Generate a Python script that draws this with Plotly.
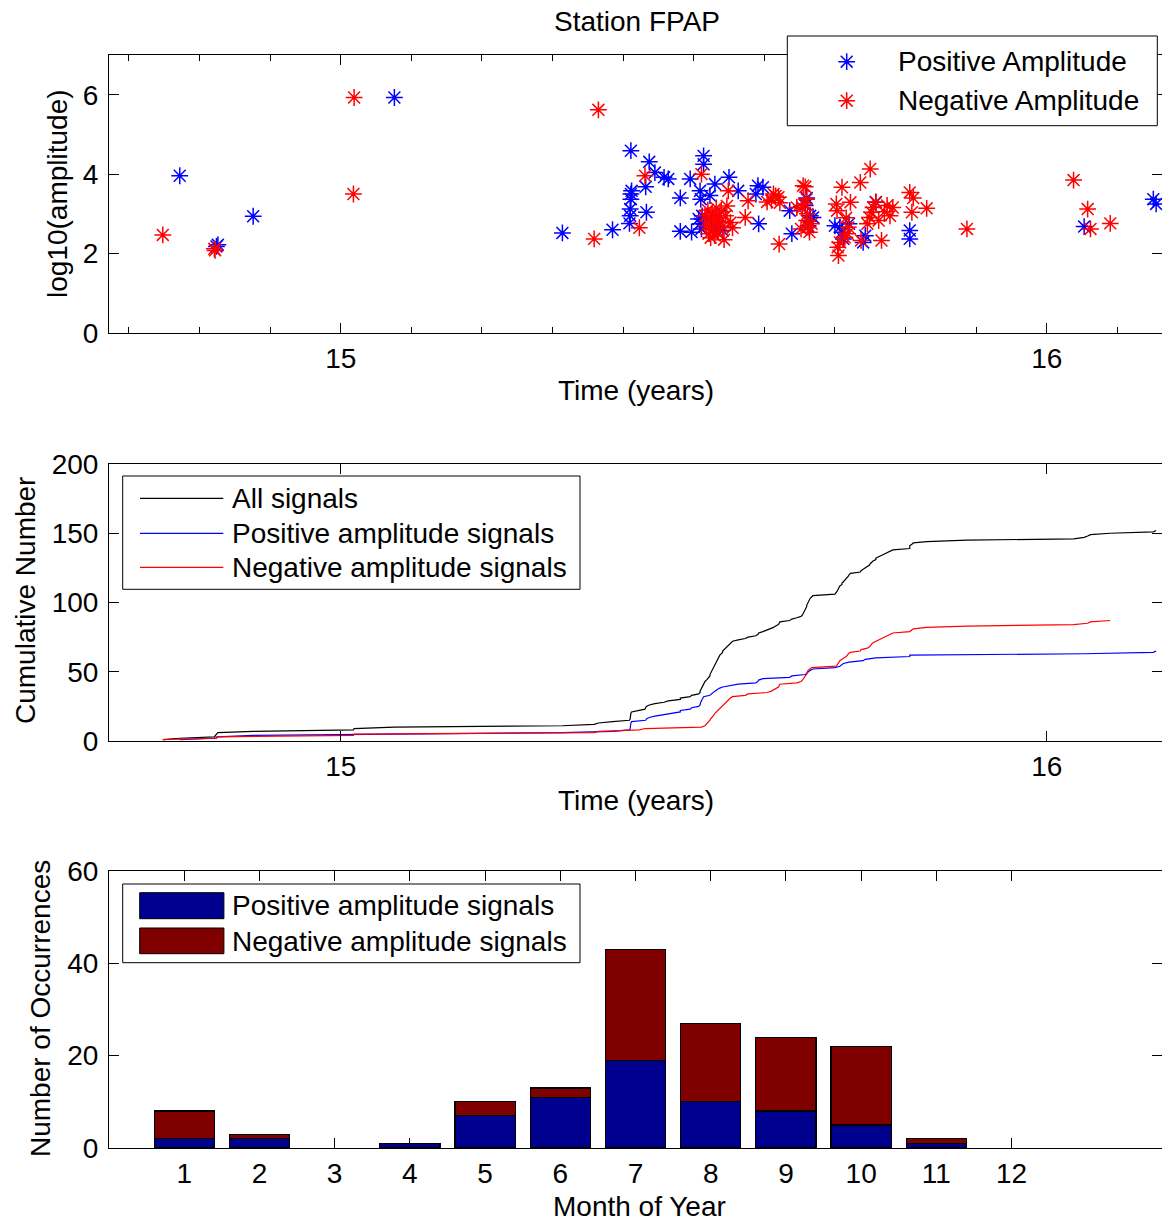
import plotly.graph_objects as go

W, H = 1162, 1222
FONT = "Liberation Sans, Arial, Helvetica, sans-serif"

# ---------------- data ----------------
pos_time = [14.772, 14.824, 14.826, 14.876, 15.076, 15.314, 15.385,
            15.409, 15.410, 15.410, 15.411, 15.411, 15.412, 15.411,
            15.432, 15.433, 15.437, 15.445,
            15.458, 15.464, 15.481, 15.481,
            15.495, 15.497,
            15.507, 15.509, 15.509, 15.510, 15.511, 15.514, 15.514, 15.512,
            15.523, 15.525, 15.528, 15.530, 15.533, 15.536, 15.541,
            15.550, 15.563, 15.588,
            15.591, 15.592, 15.598, 15.636, 15.639,
            15.658, 15.660, 15.662, 15.665, 15.669,
            15.700,
            15.707, 15.710, 15.712, 15.720,
            15.740, 15.743,
            15.758,
            15.806, 15.806,
            16.053, 16.151, 16.155]
pos_logamp = [3.96, 2.18, 2.22, 2.94, 5.93, 2.52, 2.60,
              2.76, 2.95, 3.12, 3.37, 3.50, 3.58, 4.59,
              3.68, 3.04, 4.31, 4.04,
              3.92, 3.88, 3.40, 2.56,
              3.88, 2.54,
              2.87, 3.58, 2.75, 3.37, 2.62, 4.46, 4.25, 2.95,
              3.46, 2.80, 2.60, 3.75, 2.70, 2.95, 2.58,
              3.92, 3.58, 3.50,
              3.71, 2.75, 3.67, 3.08, 2.50,
              3.21, 3.40, 2.70, 2.95, 2.91,
              2.70,
              2.66, 2.54, 2.37, 2.75,
              2.28, 2.45,
              3.29,
              2.58, 2.37,
              2.68, 3.37, 3.25]

neg_time = [14.748, 14.821, 14.822, 15.018, 15.019,
            15.359, 15.365, 15.423, 15.431, 15.511,
            15.516, 15.518, 15.520, 15.521, 15.523, 15.524, 15.526, 15.527, 15.529, 15.530,
            15.532, 15.533, 15.535, 15.537, 15.539, 15.541, 15.543, 15.545, 15.547, 15.549, 15.552,
            15.555, 15.573, 15.577,
            15.604, 15.610, 15.613, 15.616, 15.620, 15.621, 15.622,
            15.646, 15.652, 15.654, 15.655, 15.657, 15.658, 15.660, 15.660, 15.661, 15.662, 15.664, 15.667,
            15.702, 15.703, 15.704, 15.705,
            15.707, 15.710, 15.714, 15.716, 15.718, 15.719, 15.722,
            15.736, 15.737,
            15.746, 15.749, 15.750, 15.752, 15.754,
            15.758, 15.762, 15.766,
            15.770, 15.774, 15.778, 15.782,
            15.806, 15.809, 15.811, 15.830, 15.887,
            16.038, 16.058, 16.062, 16.090]
neg_logamp = [2.47, 2.12, 2.08, 3.50, 5.93,
              2.37, 5.62, 2.65, 3.96, 4.00,
              2.95, 2.70, 3.10, 2.50, 2.85, 2.40, 3.00, 2.62, 2.75, 2.45,
              3.15, 2.90, 2.55, 2.80, 3.05, 2.68, 2.35, 2.95, 3.20, 3.58, 2.78,
              2.65, 2.91, 3.33,
              3.30, 3.34, 3.50, 3.45, 3.42, 2.24, 3.28,
              3.16, 2.62, 3.16, 3.71, 3.25, 3.68, 3.37, 2.83, 3.00, 2.66, 2.54, 2.75,
              3.25, 3.08, 2.16, 1.95,
              2.28, 3.67, 2.41, 2.90, 2.50, 2.66, 3.29,
              3.79, 2.33,
              2.75, 2.91, 4.13, 3.04, 3.16,
              3.30, 2.83, 2.33,
              3.05, 3.21, 2.95, 3.16,
              3.54, 3.04, 3.40, 3.14, 2.62,
              3.85, 3.12, 2.62, 2.76]

months = list(range(1, 13))
pos_month_counts = [2, 2, 0, 1, 7, 11, 19, 10, 8, 5, 1, 0]
neg_month_counts = [6, 1, 0, 0, 3, 2, 24, 17, 16, 17, 1, 0]

time_ticks = [15, 16]
amp_ticks = [0, 2, 4, 6]
cum_ticks = [0, 50, 100, 150, 200]
occ_ticks = [0, 20, 40, 60]

# cumulative counts derived from event times
all_sorted = sorted(pos_time + neg_time)
pos_sorted = sorted(pos_time)
neg_sorted = sorted(neg_time)
all_cum = list(range(1, len(all_sorted) + 1))
pos_cum = list(range(1, len(pos_sorted) + 1))
neg_cum = list(range(1, len(neg_sorted) + 1))

# ---------------- helpers ----------------
def X(px):
    return px / W


def Y(py):
    return 1 - py / H


BLUE = "#0000FF"
RED = "#FF0000"
BAR_BLUE = "#00008F"
BAR_RED = "#800000"

fig = go.Figure()

# top panel
star = dict(symbol="asterisk-open", size=14)
fig.add_trace(go.Scatter(x=pos_time, y=pos_logamp, mode="markers", xaxis="x", yaxis="y",
                         marker=dict(**star, color=BLUE, line=dict(color=BLUE, width=1.5)),
                         showlegend=False))
fig.add_trace(go.Scatter(x=neg_time, y=neg_logamp, mode="markers", xaxis="x", yaxis="y",
                         marker=dict(**star, color=RED, line=dict(color=RED, width=1.5)),
                         showlegend=False))

# middle panel
fig.add_trace(go.Scatter(x=all_sorted, y=all_cum, mode="lines", xaxis="x2", yaxis="y2",
                         line=dict(color="black", width=1.2), showlegend=False))
fig.add_trace(go.Scatter(x=pos_sorted, y=pos_cum, mode="lines", xaxis="x2", yaxis="y2",
                         line=dict(color=BLUE, width=1.2), showlegend=False))
fig.add_trace(go.Scatter(x=neg_sorted, y=neg_cum, mode="lines", xaxis="x2", yaxis="y2",
                         line=dict(color=RED, width=1.2), showlegend=False))

# bottom panel (empty months drawn as no bar)
pos_bar = [v if v else None for v in pos_month_counts]
neg_bar = [v if v else None for v in neg_month_counts]
fig.add_trace(go.Bar(x=months, y=pos_bar, xaxis="x3", yaxis="y3", width=0.8,
                     marker=dict(color=BAR_BLUE, line=dict(color="black", width=1.2)),
                     showlegend=False))
fig.add_trace(go.Bar(x=months, y=neg_bar, xaxis="x3", yaxis="y3", width=0.8,
                     marker=dict(color=BAR_RED, line=dict(color="black", width=1.2)),
                     showlegend=False))

tickfont = dict(family=FONT, size=28, color="black")
common = dict(showline=True, linecolor="black", linewidth=1, mirror="allticks",
              ticks="inside", ticklen=10, tickwidth=1, tickcolor="black",
              showgrid=False, zeroline=False, tickfont=tickfont, fixedrange=True,
              automargin=False)

xdom = [109 / W, 1.0]
trange = [14.6718, 16.1633]

fig.update_layout(
    width=W, height=H,
    margin=dict(l=0, r=0, t=0, b=0, pad=0, autoexpand=False),
    paper_bgcolor="white", plot_bgcolor="white",
    barmode="stack", bargap=0.2,
    font=dict(family=FONT, size=28, color="black"),
    xaxis=dict(domain=xdom, range=trange, tickmode="array", tickvals=time_ticks,
               ticklabelstandoff=0, anchor="y",
               minor=dict(dtick=0.1, tick0=15, ticks="inside", ticklen=6, tickcolor="black",
                          tickwidth=1, showgrid=False),
               **common),
    yaxis=dict(domain=[Y(333), Y(55)], range=[0, 7], tickmode="array", tickvals=amp_ticks,
               ticklabelstandoff=4, anchor="x", **common),
    xaxis2=dict(domain=xdom, range=trange, tickmode="array", tickvals=time_ticks,
                ticklabelstandoff=0, anchor="y2", **common),
    yaxis2=dict(domain=[Y(741), Y(464)], range=[0, 200], tickmode="array", tickvals=cum_ticks,
                ticklabelstandoff=4, anchor="x2", **common),
    xaxis3=dict(domain=xdom, range=[0, 14], tickmode="array", tickvals=months,
                ticklabelstandoff=0, anchor="y3", layer="below traces", **common),
    yaxis3=dict(domain=[Y(1148), Y(871)], range=[0, 60], tickmode="array", tickvals=occ_ticks,
                ticklabelstandoff=4, anchor="x3", layer="below traces", **common),
)

# ---------------- titles (annotations) ----------------
def txt(text, px, py, angle=0, xanchor="center"):
    fig.add_annotation(text=text, x=X(px), y=Y(py), xref="paper", yref="paper",
                       showarrow=False, xanchor=xanchor, yanchor="middle", textangle=angle,
                       font=dict(family=FONT, size=28, color="black"))


txt("Station FPAP", 637, 22)
txt("Time (years)", 636, 391)
txt("Time (years)", 636, 800)
txt("Month of Year", 639, 1206)
txt("log10(amplitude)", 57, 194, angle=-90)
txt("Cumulative Number", 25, 601, angle=-90)
txt("Number of Occurrences", 40, 1009, angle=-90)

# ---------------- custom legends ----------------
shapes = []


def rect(x0, y0, x1, y1, fill="white", lw=1):
    shapes.append(dict(type="rect", xref="paper", yref="paper", x0=X(x0), x1=X(x1),
                       y0=Y(y1), y1=Y(y0), fillcolor=fill, line=dict(color="black", width=lw),
                       layer="above"))


def seg(x0, y0, x1, y1, color, lw=1.2):
    shapes.append(dict(type="line", xref="paper", yref="paper", x0=X(x0), x1=X(x1),
                       y0=Y(y0), y1=Y(y1), line=dict(color=color, width=lw), layer="above"))


def asterisk(cx, cy, color, r=8.4, r2=5.95):
    p = (f"M{X(cx - r)},{Y(cy)} L{X(cx + r)},{Y(cy)} "
         f"M{X(cx)},{Y(cy - r)} L{X(cx)},{Y(cy + r)} "
         f"M{X(cx - r2)},{Y(cy - r2)} L{X(cx + r2)},{Y(cy + r2)} "
         f"M{X(cx - r2)},{Y(cy + r2)} L{X(cx + r2)},{Y(cy - r2)}")
    shapes.append(dict(type="path", xref="paper", yref="paper", path=p,
                       line=dict(color=color, width=1.5), layer="above"))


# top legend
rect(787.3, 36, 1157.3, 125.7)
asterisk(846.7, 61.7, BLUE)
asterisk(846.7, 100.7, RED)
txt("Positive Amplitude", 896, 61.7, xanchor="left")
txt("Negative Amplitude", 896, 100.7, xanchor="left")

# middle legend
rect(122.7, 476, 580, 589.3)
seg(140, 498.3, 223.3, 498.3, "black")
seg(140, 533.3, 223.3, 533.3, BLUE)
seg(140, 567.3, 223.3, 567.3, RED)
txt("All signals", 230, 498.3, xanchor="left")
txt("Positive amplitude signals", 230, 533.3, xanchor="left")
txt("Negative amplitude signals", 230, 567.3, xanchor="left")

# bottom legend
rect(122.7, 884, 580, 962.7)
rect(139.7, 892.7, 223.9, 918.7, fill=BAR_BLUE)
rect(139.7, 928, 223.9, 953.7, fill=BAR_RED)
txt("Positive amplitude signals", 230, 905.7, xanchor="left")
txt("Negative amplitude signals", 230, 941, xanchor="left")

fig.update_layout(shapes=shapes)

fig.write_html(
    "out.html",
    config={"displayModeBar": False},
    post_script="document.body.style.margin='0';document.body.style.padding='0';"
                "document.documentElement.style.overflow='hidden';",
)
